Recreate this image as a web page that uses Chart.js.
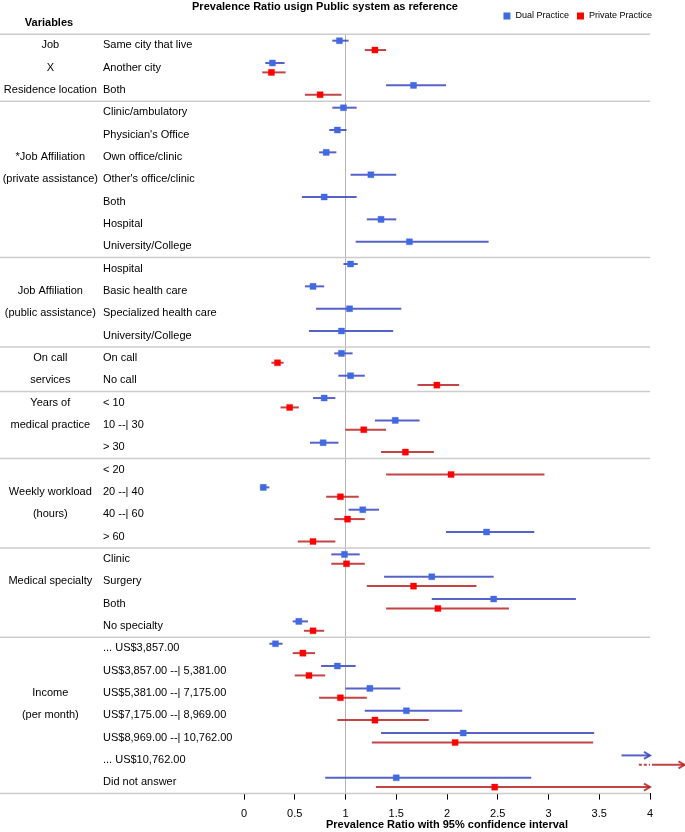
<!DOCTYPE html>
<html>
<head>
<meta charset="utf-8">
<script src="https://cdn.jsdelivr.net/npm/chart.js@4/dist/chart.umd.min.js"></script>
<style>
  html, body { margin: 0; padding: 0; background: #fff; }
  #wrap { width: 685px; height: 832px; }
</style>
</head>
<body>
<div id="wrap"><canvas id="forest"></canvas></div>
<script>
// Row labels (top to bottom)
const subLabels = [
  "Same city that live", "Another city", "Both",
  "Clinic/ambulatory", "Physician's Office", "Own office/clinic", "Other's office/clinic", "Both", "Hospital", "University/College",
  "Hospital", "Basic health care", "Specialized health care", "University/College",
  "On call", "No call",
  "< 10", "10 --| 30", "> 30",
  "< 20", "20 --| 40", "40 --| 60", "> 60",
  "Clinic", "Surgery", "Both", "No specialty",
  "... US$3,857.00", "US$3,857.00 --| 5,381.00", "US$5,381.00 --| 7,175.00", "US$7,175.00 --| 8,969.00",
  "US$8,969.00 --| 10,762.00", "... US$10,762.00", "Did not answer"
];
const groupLabels = [
  "Job", "X", "Residence location",
  "", "", "*Job Affiliation", "(private assistance)", "", "", "",
  "", "Job Affiliation", "(public assistance)", "",
  "On call", "services",
  "Years of", "medical practice", "",
  "", "Weekly workload", "(hours)", "",
  "", "Medical specialty", "", "",
  "", "", "Income", "(per month)", "", "", ""
];
// last row of each variable block
const groupEnds = [3, 10, 14, 16, 19, 23, 27, 34];

// Dual practice: estimate and 95% CI
const dualEst = [0.94, 0.28, 1.67, 0.98, 0.92, 0.81, 1.25, 0.79, 1.35, 1.63, 1.05, 0.68, 1.04, 0.96, 0.96, 1.05,
  0.79, 1.49, 0.78, null, 0.19, 1.17, 2.39, 0.99, 1.85, 2.46, 0.54, 0.31, 0.92, 1.24, 1.60, 2.16, null, 1.50];
const dualLo = [0.87, 0.21, 1.40, 0.87, 0.84, 0.74, 1.05, 0.57, 1.21, 1.10, 0.98, 0.60, 0.71, 0.64, 0.89, 0.93,
  0.68, 1.29, 0.65, null, 0.16, 1.03, 1.99, 0.86, 1.38, 1.85, 0.48, 0.25, 0.76, 1.00, 1.19, 1.35, 3.72, 0.80];
const dualHi = [1.03, 0.40, 1.99, 1.11, 1.01, 0.91, 1.50, 1.11, 1.50, 2.41, 1.12, 0.79, 1.55, 1.47, 1.07, 1.19,
  0.90, 1.73, 0.93, null, 0.25, 1.33, 2.86, 1.14, 2.46, 3.27, 0.63, 0.38, 1.10, 1.54, 2.15, 3.45, 4.00, 2.83];

// Private practice: estimate and 95% CI
const privEst = [1.29, 0.27, 0.75, null, null, null, null, null, null, null, null, null, null, null, 0.33, 1.90,
  0.45, 1.18, 1.59, 2.04, 0.95, 1.02, 0.68, 1.01, 1.67, 1.91, 0.68, 0.58, 0.64, 0.95, 1.29, 2.08, null, 2.47];
const privLo = [1.19, 0.18, 0.60, null, null, null, null, null, null, null, null, null, null, null, 0.27, 1.71,
  0.36, 1.00, 1.35, 1.40, 0.81, 0.89, 0.53, 0.86, 1.21, 1.40, 0.59, 0.48, 0.50, 0.74, 0.92, 1.26, 3.89, 1.30];
const privHi = [1.40, 0.41, 0.96, null, null, null, null, null, null, null, null, null, null, null, 0.39, 2.12,
  0.54, 1.40, 1.87, 2.96, 1.13, 1.19, 0.90, 1.19, 2.29, 2.61, 0.79, 0.70, 0.80, 1.21, 1.82, 3.44, 4.34, 4.00];

const xTicks = [0, 0.5, 1, 1.5, 2, 2.5, 3, 3.5, 4];

const dualColor = "#4169e1";
const privColor = "#ff0000";
const dualLine = "rgba(58, 70, 190, 0.85)";
const privLine = "rgba(185, 35, 35, 0.85)";
const rowShift = 0.21; // dual above, private below the row centre

Chart.defaults.font.family = "'Liberation Sans', Arial, sans-serif";
Chart.defaults.color = "#000";

function toPoints(est, shift) {
  return est.map((v, i) => (v == null ? null : { x: v, y: i + 1 + shift })).filter(p => p);
}

function drawArrowHead(ctx, x, y) {
  ctx.beginPath();
  ctx.moveTo(x - 6, y - 3.5);
  ctx.lineTo(x, y);
  ctx.lineTo(x - 6, y + 3.5);
  ctx.stroke();
}

function drawIntervals(ctx, xs, ys, lo, hi, shift, color) {
  const xMax = xs.max;
  ctx.strokeStyle = color;
  ctx.lineWidth = 2;
  lo.forEach((l, i) => {
    if (l == null) return;
    const h = hi[i];
    const y = ys.getPixelForValue(i + 1 + shift);
    const x1 = xs.getPixelForValue(l);
    const xin = xs.getPixelForValue(Math.min(h, xMax));
    ctx.save();
    if (h > xMax) ctx.setLineDash([3, 2]);
    ctx.beginPath();
    ctx.moveTo(x1, y);
    ctx.lineTo(xin, y);
    ctx.stroke();
    ctx.restore();
    if (h > xMax) {
      const x2 = xs.getPixelForValue(h);
      ctx.beginPath();
      ctx.moveTo(xin + 2, y);
      ctx.lineTo(x2, y);
      ctx.stroke();
      drawArrowHead(ctx, x2, y);
    } else if (h >= xMax) {
      drawArrowHead(ctx, xin, y);
    }
  });
}

const forestExtras = {
  id: "forestExtras",
  beforeDatasetsDraw(chart) {
    const { ctx, chartArea } = chart;
    const xs = chart.scales.x;
    const ys = chart.scales.y;
    ctx.save();
    // block separators
    ctx.strokeStyle = "#cccccc";
    ctx.lineWidth = 1.5;
    [0].concat(groupEnds).forEach(r => {
      const y = ys.getPixelForValue(r + 0.5);
      ctx.beginPath();
      ctx.moveTo(0, y);
      ctx.lineTo(chartArea.right, y);
      ctx.stroke();
    });
    drawIntervals(ctx, xs, ys, dualLo, dualHi, -rowShift, dualLine);
    drawIntervals(ctx, xs, ys, privLo, privHi, rowShift, privLine);
    ctx.restore();
  },
  afterDraw(chart) {
    const { ctx } = chart;
    ctx.save();
    ctx.fillStyle = "#000";
    ctx.font = "bold 11px 'Liberation Sans', Arial, sans-serif";
    ctx.textAlign = "center";
    ctx.textBaseline = "middle";
    ctx.fillText("Variables", 49, 23);

    // legend, right aligned
    ctx.font = "9px 'Liberation Sans', Arial, sans-serif";
    ctx.textAlign = "left";
    const items = chart.data.datasets.map(d => ({ text: d.label, color: d.backgroundColor }));
    const box = 7, gap = 5, between = 8;
    let total = 0;
    items.forEach((it, i) => {
      it.w = ctx.measureText(it.text).width;
      total += box + gap + it.w + (i ? between : 0);
    });
    let x = 652 - total;
    const y = 16;
    items.forEach((it, i) => {
      if (i) x += between;
      ctx.fillStyle = it.color;
      ctx.fillRect(x, y - box / 2, box, box);
      x += box + gap;
      ctx.fillStyle = "#000";
      ctx.fillText(it.text, x, y);
      x += it.w;
    });
    ctx.restore();
  }
};

const rowTicks = scale => { scale.ticks = subLabels.map((_, i) => ({ value: i + 1 })); };

new Chart(document.getElementById("forest"), {
  type: "scatter",
  data: {
    datasets: [
      {
        label: "Dual Practice",
        data: toPoints(dualEst, -rowShift),
        backgroundColor: dualColor,
        borderColor: "rgba(65, 105, 225, 0.35)",
        borderWidth: 1,
        pointStyle: "rect",
        pointRadius: 4.3
      },
      {
        label: "Private Practice",
        data: toPoints(privEst, rowShift),
        backgroundColor: privColor,
        borderColor: "rgba(255, 0, 0, 0.35)",
        borderWidth: 1,
        pointStyle: "rect",
        pointRadius: 4.3
      }
    ]
  },
  options: {
    responsive: true,
    maintainAspectRatio: false,
    animation: false,
    layout: { padding: { right: 35 } },
    plugins: {
      legend: { display: false },
      tooltip: { enabled: false },
      title: {
        display: true,
        text: "Prevalence Ratio usign Public system as reference",
        color: "#000",
        font: { size: 11, weight: "bold" },
        padding: { top: 0, bottom: 21 }
      }
    },
    scales: {
      x: {
        type: "linear",
        min: 0,
        max: 4,
        afterBuildTicks: scale => { scale.ticks = xTicks.map(v => ({ value: v })); },
        ticks: { color: "#000", font: { size: 11 }, padding: 8, callback: v => String(v) },
        grid: {
          color: c => (c.tick && c.tick.value === 1 ? "#b4b4b4" : "rgba(0,0,0,0)"),
          tickColor: "#000",
          tickLength: 6
        },
        border: { color: "#000", width: 1 },
        title: {
          display: true,
          text: "Prevalence Ratio with 95% confidence interval",
          color: "#000",
          font: { size: 11, weight: "bold" },
          padding: { top: -10, bottom: 0 }
        }
      },
      y: {
        type: "linear",
        position: "left",
        min: 0.5,
        max: 34.5,
        reverse: true,
        weight: 0,
        afterBuildTicks: rowTicks,
        afterFit: scale => { scale.width = 141; },
        ticks: {
          autoSkip: false,
          crossAlign: "far",
          color: "#000",
          font: { size: 11 },
          callback: v => subLabels[v - 1]
        },
        grid: { display: false },
        border: { display: false }
      },
      yGroup: {
        type: "linear",
        position: "left",
        min: 0.5,
        max: 34.5,
        reverse: true,
        weight: 1,
        afterBuildTicks: rowTicks,
        afterFit: scale => { scale.width = 103; },
        ticks: {
          autoSkip: false,
          crossAlign: "center",
          padding: -3,
          color: "#000",
          font: { size: 11 },
          callback: v => groupLabels[v - 1]
        },
        grid: { display: false },
        border: { display: false }
      }
    }
  },
  plugins: [forestExtras]
});
</script>
</body>
</html>
